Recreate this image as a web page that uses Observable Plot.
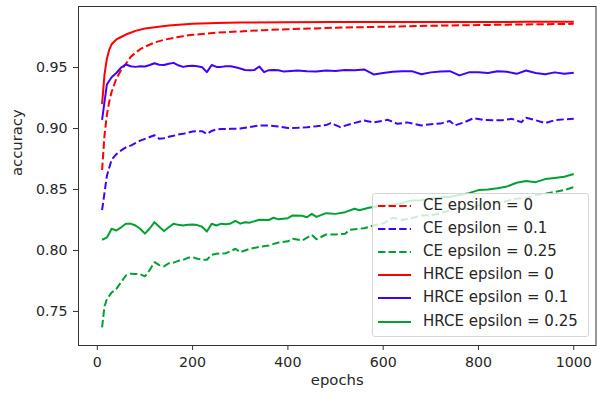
<!DOCTYPE html>
<html>
<head>
<meta charset="utf-8">
<script src="https://cdn.jsdelivr.net/npm/d3@7"></script>
<script src="https://cdn.jsdelivr.net/npm/@observablehq/plot@0.6"></script>
<style>
  body { margin: 0; background: #fff; }
  #wrap { position: relative; width: 597px; height: 397px; font-family: "DejaVu Sans", sans-serif; }
  .legend { position: absolute; left: 372px; top: 193px; width: 217px; height: 144px; box-sizing: border-box;
            border: 1px solid #d6d6d6; border-radius: 3px; background: rgba(255,255,255,0.8); }
  .row { position: absolute; left: 0; height: 20px; width: 100%; }
  .row svg { position: absolute; left: 4px; top: 0; }
  .row span { position: absolute; left: 50px; top: 0px; font-size: 15px; line-height: 19px; color: #262626; white-space: nowrap; }
</style>
</head>
<body>
<div id="wrap"></div>
<script>
// ---- data ----
const ce0Epochs = [10,15,20,25,30,40,50,60,70,80,90,100,120,140,160,180,200,250,300,350,400,500,600,700,800,900,1000];
const ce0Acc    = [0.866,0.894,0.911,0.922,0.930,0.941,0.948,0.953,0.9587,0.962,0.965,0.967,0.9705,0.9727,0.9743,0.9757,0.9768,0.9785,0.9796,0.9806,0.9814,0.9826,0.9834,0.9842,0.9848,0.9853,0.9858];

const ce01Epochs = [10,20,30,40,50,60,70,80,90,100,110,120,130,140,150,160,170,180,190,200,210,220,230,240,250,260,280,300,320,340,360,380,400,420,440,460,480,490,510,530,560,580,610,630,650,680,700,720,740,750,770,790,810,830,850,870,890,900,920,940,960,980,1000];
const ce01Acc    = [0.833,0.861,0.8745,0.879,0.882,0.8845,0.886,0.888,0.890,0.8915,0.893,0.8945,0.8915,0.892,0.8932,0.894,0.895,0.8956,0.8965,0.8975,0.8978,0.8978,0.8955,0.898,0.8992,0.8995,0.8997,0.900,0.9012,0.9025,0.9025,0.9016,0.9004,0.9006,0.901,0.9018,0.9028,0.9044,0.9011,0.9035,0.9066,0.905,0.9071,0.9038,0.905,0.9025,0.9035,0.904,0.9062,0.9025,0.905,0.9085,0.907,0.9068,0.9068,0.9079,0.9052,0.9088,0.9068,0.9044,0.9068,0.9075,0.908];

const ce025Epochs = [10,15,20,30,40,50,60,70,80,90,100,110,120,130,140,150,160,170,180,190,200,210,220,230,240,250,270,280,290,300,320,340,360,380,400,410,430,450,460,480,500,520,530,560,580,600,620,640,660,680,700,720,740,760,780,800,820,840,860,880,900,920,940,960,980,1000];
const ce025Acc    = [0.737,0.754,0.760,0.7655,0.7685,0.774,0.7795,0.781,0.7808,0.7805,0.7788,0.784,0.7904,0.788,0.787,0.7895,0.790,0.7915,0.7922,0.794,0.7945,0.7932,0.7924,0.7924,0.7965,0.7973,0.7978,0.7995,0.8014,0.7986,0.8014,0.803,0.8041,0.8065,0.8075,0.8096,0.8082,0.8128,0.8092,0.8131,0.8131,0.8137,0.817,0.8182,0.8205,0.822,0.8268,0.825,0.8265,0.8287,0.829,0.8305,0.833,0.835,0.834,0.837,0.8385,0.839,0.8405,0.8425,0.843,0.8455,0.8465,0.848,0.8495,0.852];

const hr0Epochs = [10,15,20,25,30,40,50,60,80,100,150,200,250,300,400,500,600,700,800,900,1000];
const hr0Acc    = [0.920,0.944,0.957,0.9645,0.969,0.973,0.975,0.977,0.980,0.982,0.9845,0.9858,0.9864,0.9868,0.9871,0.9872,0.9873,0.9872,0.9873,0.9874,0.9874];

const hr01Epochs = [10,20,30,40,50,60,70,80,90,100,110,120,130,140,150,160,170,180,190,200,210,220,230,240,250,260,270,280,290,300,310,320,330,340,350,360,370,380,390,400,420,440,460,480,500,520,540,560,580,600,620,640,660,680,700,720,740,760,780,800,820,840,860,880,900,920,940,960,980,1000];
const hr01Acc    = [0.907,0.936,0.942,0.9455,0.950,0.9525,0.951,0.9505,0.951,0.9508,0.952,0.9535,0.9522,0.952,0.953,0.9538,0.9518,0.9505,0.9512,0.9515,0.951,0.9502,0.9462,0.952,0.9505,0.9505,0.951,0.951,0.9502,0.9492,0.948,0.9478,0.948,0.9508,0.9462,0.9478,0.948,0.9478,0.9468,0.947,0.9475,0.947,0.9468,0.9476,0.9472,0.948,0.9478,0.9484,0.9443,0.9455,0.9465,0.947,0.947,0.9445,0.946,0.9468,0.947,0.9435,0.946,0.9462,0.9455,0.947,0.9465,0.9448,0.9475,0.9455,0.9445,0.946,0.9448,0.9456];

const hr025Epochs = [10,20,30,40,50,60,70,80,90,100,110,120,130,140,150,160,170,180,190,200,210,220,230,240,250,260,270,280,290,300,310,320,340,360,370,380,390,400,410,430,440,450,460,480,500,520,540,550,570,590,610,630,660,680,700,720,740,760,780,800,820,840,860,880,900,920,940,960,980,1000];
const hr025Acc    = [0.8088,0.8105,0.8178,0.8164,0.819,0.8219,0.822,0.8205,0.8178,0.8138,0.818,0.8232,0.8195,0.816,0.819,0.8219,0.821,0.8205,0.821,0.8213,0.8208,0.8195,0.8155,0.8219,0.8205,0.822,0.8215,0.8222,0.8242,0.822,0.8232,0.8228,0.8252,0.825,0.8268,0.8255,0.826,0.8265,0.8287,0.8285,0.8272,0.830,0.8275,0.8306,0.830,0.8314,0.8342,0.833,0.835,0.8362,0.837,0.838,0.841,0.8412,0.8425,0.8435,0.844,0.8455,0.847,0.8495,0.850,0.851,0.8525,0.8555,0.857,0.856,0.8585,0.8595,0.8605,0.8627];

const seriesNames = ["CE epsilon = 0","CE epsilon = 0.1","CE epsilon = 0.25","HRCE epsilon = 0","HRCE epsilon = 0.1","HRCE epsilon = 0.25"];
const seriesColors = ["#ff0000","#4200ff","#00a033","#ff0000","#4200ff","#00a033"];
const seriesDashed = [true,true,true,false,false,false];
const seriesEpochs = [ce0Epochs, ce01Epochs, ce025Epochs, hr0Epochs, hr01Epochs, hr025Epochs];
const seriesAcc = [ce0Acc, ce01Acc, ce025Acc, hr0Acc, hr01Acc, hr025Acc];

const xTicks = [0,200,400,600,800,1000];
const yTicks = [0.75,0.80,0.85,0.90,0.95];
const xLabel = "epochs";
const yLabel = "accuracy";

// ---- chart ----
const DASH = "7.4,3.2";
const lineMarks = seriesAcc.map((acc, i) =>
  Plot.line(acc, {x: seriesEpochs[i], y: d => d, stroke: seriesColors[i], strokeWidth: 2,
    strokeDasharray: seriesDashed[i] ? DASH : null, strokeLinejoin: "round", strokeLinecap: "butt"}));

const chart = Plot.plot({
  width: 597, height: 397,
  marginLeft: 78, marginRight: 1.5, marginTop: 6, marginBottom: 52,
  style: {fontFamily: "DejaVu Sans", fontSize: "14.2px", color: "#262626", background: "white"},
  x: {domain: [-39.5, 1046.7]},
  y: {domain: [0.7221, 1.0]},
  marks: [
    ...lineMarks,
    Plot.frame({stroke: "#333", strokeWidth: 1}),
    Plot.axisX({ticks: xTicks, tickSize: 5, tickPadding: 6, tickFormat: d => String(d), label: null, stroke: "#333"}),
    Plot.axisY({ticks: yTicks, tickSize: 5, tickPadding: 6, tickFormat: d => d.toFixed(2), label: null, stroke: "#333"}),
    Plot.text([xLabel], {frameAnchor: "bottom", dy: 39, text: d => d, fontSize: 14.8, fill: "#262626"}),
    Plot.text([yLabel], {frameAnchor: "left", dx: -61.6, rotate: -90, text: d => d, fontSize: 14.8, fill: "#262626"})
  ]
});

const wrap = document.getElementById("wrap");
wrap.appendChild(chart);

// ---- legend overlay ----
const legend = document.createElement("div");
legend.className = "legend";
seriesNames.forEach((name, i) => {
  const row = document.createElement("div");
  row.className = "row";
  row.style.top = (1.5 + i * 23.2) + "px";
  const ns = "http://www.w3.org/2000/svg";
  const svg = document.createElementNS(ns, "svg");
  svg.setAttribute("width", "36"); svg.setAttribute("height", "20");
  const ln = document.createElementNS(ns, "line");
  ln.setAttribute("x1", "1"); ln.setAttribute("x2", "34");
  ln.setAttribute("y1", "10"); ln.setAttribute("y2", "10");
  ln.setAttribute("stroke", seriesColors[i]); ln.setAttribute("stroke-width", "2");
  if (seriesDashed[i]) ln.setAttribute("stroke-dasharray", DASH);
  svg.appendChild(ln);
  const sp = document.createElement("span");
  sp.textContent = name;
  row.appendChild(svg); row.appendChild(sp);
  legend.appendChild(row);
});
wrap.appendChild(legend);
</script>
</body>
</html>
